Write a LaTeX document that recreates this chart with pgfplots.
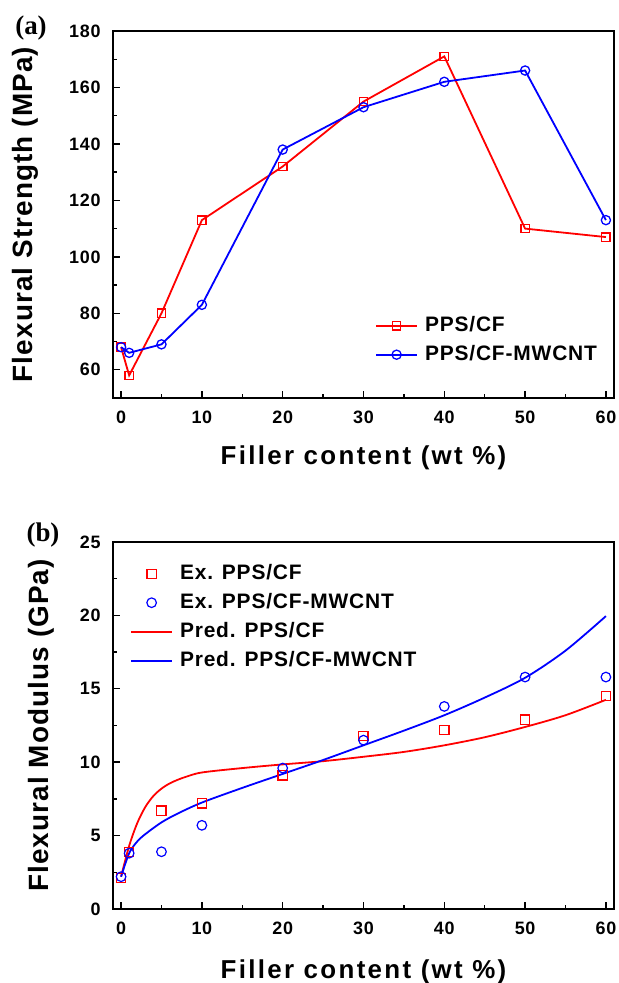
\documentclass[border=0pt]{standalone}
\usepackage{fontspec}
\setmainfont{Liberation Sans}[LetterSpace=4]
\newfontfamily\wides{Liberation Sans}[LetterSpace=9]
\newfontfamily\serifb{Liberation Serif}
\usepackage{pgfplots}
\pgfplotsset{compat=1.18}
\definecolor{myred}{RGB}{255,0,0}
\definecolor{myblue}{RGB}{0,0,255}

\pgfplotsset{
  common/.style={
    scale only axis, width=501bp, height=367bp,
    xmin=-1, xmax=61, xtick={0,10,...,60}, minor x tick num=1,
    minor y tick num=1,
    tick pos=left, tick align=inside,
    major tick length=7bp, minor tick length=4bp,
    axis line style={line width=1.6bp},
    every tick/.append style={black, line width=1.4bp},
    tick label style={font=\bfseries\fontsize{18}{18}\selectfont},
    /pgf/number format/assume math mode=true,
    xticklabel shift=9bp, yticklabel shift=9bp,
    xlabel={Filler content (wt \%)},
    legend cell align=left,
    legend image code/.code={\draw[mark repeat=2,mark phase=2] plot coordinates {(0bp,0bp) (20.5bp,0bp) (41bp,0bp)};},
    legend style={draw=none, fill=none, inner sep=0pt, anchor=north west,
      font=\bfseries\fontsize{21}{21}\selectfont,
      nodes={inner sep=0pt, text height=15bp, text depth=4bp},
      row sep=10bp, column sep=7bp},
  }
}

\begin{document}
\begin{tikzpicture}
\useasboundingbox (0,0) rectangle (619bp,983bp);

% ---------- (a) ----------
\begin{axis}[common, at={(113bp,585bp)}, anchor=south west,
  ymin=50, ymax=180, ytick={60,80,...,180},
  ylabel={Flexural Strength (MPa)},
  every axis y label/.style={at={(axis description cs:-0.174,0.5)}, rotate=90, anchor=center, font=\bfseries\fontsize{28}{28}\selectfont},
  every axis x label/.style={at={(axis description cs:0.5,-0.163)}, anchor=center, font=\wides\bfseries\fontsize{26}{26}\selectfont},
  legend style={at={(axis description cs:0.523,0.2234)}},
]
\addplot[myred, line width=1.8bp, mark=square, mark size=4.2bp,
  mark options={solid, fill=white, line width=1.3bp}]
  coordinates {(0,68) (1,58) (5,80) (10,113) (20,132) (30,155) (40,171) (50,110) (60,107)};
\addlegendentry{PPS/CF}
\addplot[myblue, line width=1.8bp, mark=o, mark size=4.6bp,
  mark options={solid, fill=white, line width=1.3bp}]
  coordinates {(0,68) (1,66) (5,69) (10,83) (20,138) (30,153) (40,162) (50,166) (60,113)};
\addlegendentry{PPS/CF-MWCNT}
\end{axis}

% ---------- (b) ----------
\begin{axis}[common, at={(113bp,74bp)}, anchor=south west,
  ymin=0, ymax=25, ytick={0,5,...,25},
  ylabel={Flexural Modulus (GPa)},
  every axis y label/.style={at={(axis description cs:-0.143,0.5)}, rotate=90, anchor=center, font=\bfseries\fontsize{28}{28}\selectfont},
  every axis x label/.style={at={(axis description cs:0.5,-0.172)}, anchor=center, font=\wides\bfseries\fontsize{26}{26}\selectfont},
  legend style={at={(axis description cs:0.034,0.940)}},
]
\addplot[myred, only marks, mark=square, mark size=4.6bp, mark options={line width=1.2bp}]
  coordinates {(0,2.1) (1,3.9) (5,6.7) (10,7.2) (20,9.1) (30,11.8) (40,12.2) (50,12.9) (60,14.5)};
\addlegendentry{Ex. PPS/CF}
\addplot[myblue, only marks, mark=o, mark size=4.8bp, mark options={line width=1.2bp}]
  coordinates {(0,2.2) (1,3.8) (5,3.9) (10,5.7) (20,9.6) (30,11.5) (40,13.8) (50,15.8) (60,15.8)};
\addlegendentry{Ex. PPS/CF-MWCNT}
\addplot[myred, line width=1.8bp, smooth, tension=0.5]
  coordinates {(0,2.2) (1,4.3) (2,5.85) (3,6.95) (4,7.7) (5,8.2) (6,8.55) (7,8.8) (8,9.0) (10,9.3) (15,9.6) (20,9.85) (25,10.07) (30,10.37) (35,10.7) (40,11.15) (45,11.7) (50,12.4) (55,13.2) (60,14.25)};
\addlegendentry{Pred. PPS/CF}
\addplot[myblue, line width=1.8bp, smooth, tension=0.5]
  coordinates {(0,2.2) (1,3.8) (2,4.6) (3,5.1) (5,5.9) (7,6.5) (10,7.25) (15,8.25) (20,9.2) (25,10.15) (30,11.15) (35,12.15) (40,13.2) (45,14.4) (50,15.75) (55,17.6) (60,19.95)};
\addlegendentry{Pred. PPS/CF-MWCNT}
\end{axis}

\node[font=\serifb\bfseries\fontsize{27}{27}\selectfont] at (31bp,955bp) {(a)};
\node[font=\serifb\bfseries\fontsize{27}{27}\selectfont] at (43bp,448bp) {(b)};
\end{tikzpicture}
\end{document}
